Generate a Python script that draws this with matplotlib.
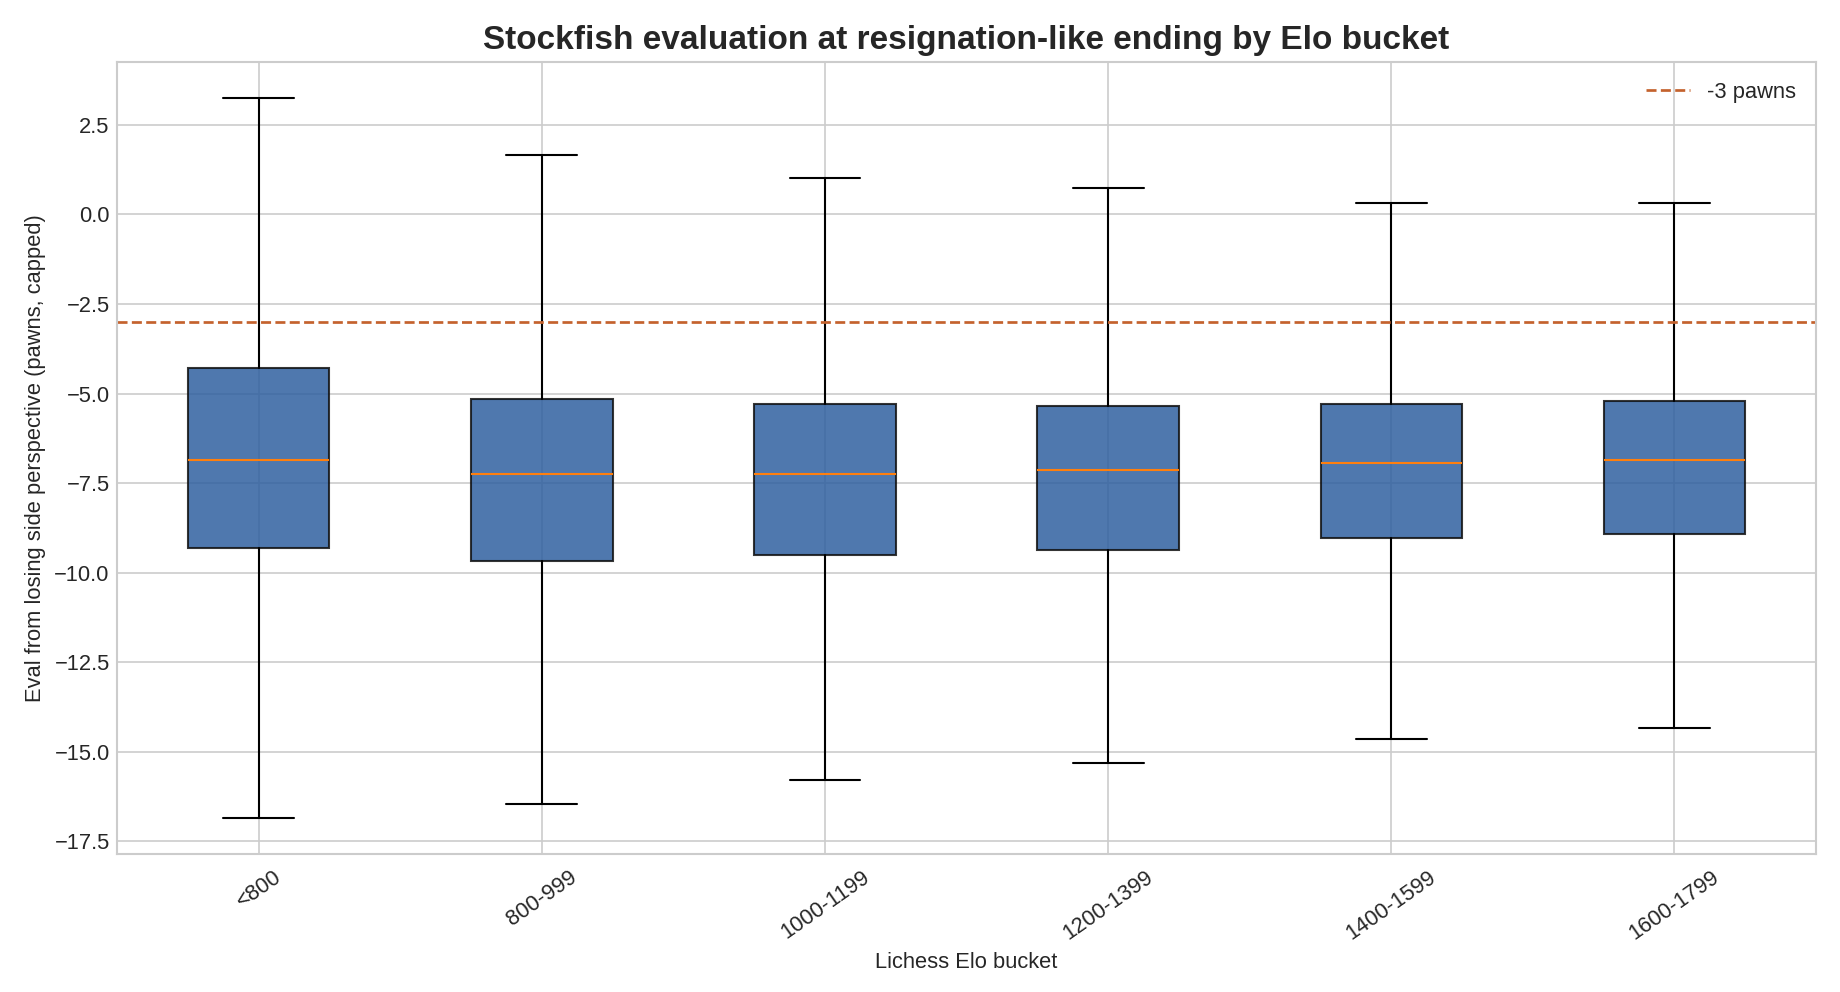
import matplotlib
matplotlib.use("Agg")
import matplotlib.pyplot as plt

plt.style.use("seaborn-v0_8-whitegrid")
plt.rcParams['font.family'] = ['Liberation Sans', 'DejaVu Sans']

buckets = ['<800', '800-999', '1000-1199', '1200-1399', '1400-1599', '1600-1799']
whisker_hi = [3.25, 1.65, 1.03, 0.73, 0.33, 0.33]
q3 = [-4.28, -5.15, -5.29, -5.34, -5.28, -5.21]
medians = [-6.86, -7.25, -7.25, -7.12, -6.95, -6.86]
q1 = [-9.31, -9.67, -9.51, -9.38, -9.04, -8.91]
whisker_lo = [-16.85, -16.46, -15.79, -15.32, -14.64, -14.33]

stats = []
for name, hi, u, m, l, lo in zip(buckets, whisker_hi, q3, medians, q1, whisker_lo):
    stats.append(dict(label=name, whishi=hi, q3=u, med=m, q1=l, whislo=lo, fliers=[]))

fig = plt.figure(figsize=(1840 / 150, 992 / 150), dpi=150)
ax = fig.add_axes([0.0636, 0.139, 0.9234, 0.7985])

bp = ax.bxp(stats, widths=0.5, patch_artist=True, showfliers=False)
for box in bp['boxes']:
    box.set_facecolor('#3060a0')
    box.set_edgecolor('#111111')
    box.set_alpha(0.85)
for med in bp['medians']:
    med.set_color('#ff7f0e')

ax.axhline(-3, color='#c4622d', linestyle='--', linewidth=1.3, label='-3 pawns')

ax.set_title('Stockfish evaluation at resignation-like ending by Elo bucket',
             fontsize=16, fontweight='bold')
ax.set_xlabel('Lichess Elo bucket', fontsize=10.5, labelpad=4)
ax.set_ylabel('Eval from losing side perspective (pawns, capped)', fontsize=10.5)
ax.tick_params(axis='both', labelsize=10.5)
ax.tick_params(axis='x', pad=6)
plt.setp(ax.get_xticklabels(), rotation=35)
ax.legend(loc='upper right', fontsize=10.5)

fig.savefig('out.png', dpi=150)
